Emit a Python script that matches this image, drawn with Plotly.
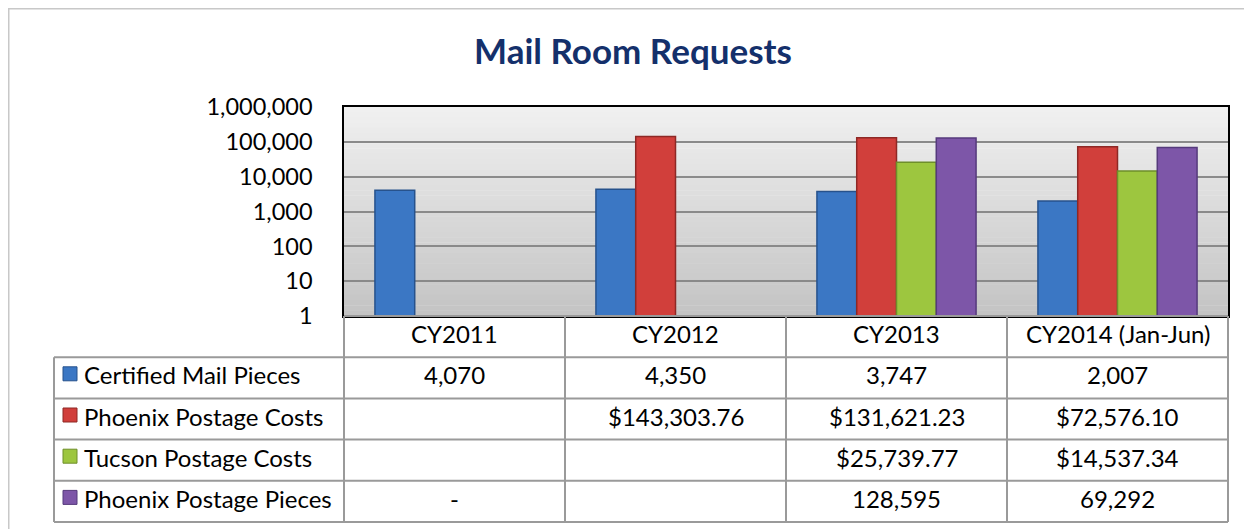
import plotly.graph_objects as go

categories = ["CY2011", "CY2012", "CY2013", "CY2014 (Jan-Jun)"]
series_names = ["Certified Mail Pieces", "Phoenix Postage Costs",
                "Tucson Postage Costs", "Phoenix Postage Pieces"]
certified_mail = [4070, 4350, 3747, 2007]
phoenix_costs = [None, 143303.76, 131621.23, 72576.10]
tucson_costs = [None, None, 25739.77, 14537.34]
phoenix_pieces = [0, None, 128595, 69292]
series_values = [certified_mail, phoenix_costs, tucson_costs, phoenix_pieces]
series_formats = ["count", "money", "money", "count"]
tick_values = [1, 10, 100, 1000, 10000, 100000, 1000000]
tick_labels = ["1", "10", "100", "1,000", "10,000", "100,000", "1,000,000"]

colors = ["#3B77C4", "#D13F3B", "#9DC63F", "#7D56A8"]
edge_colors = ["#27528C", "#8E2825", "#6E8F2A", "#553A7C"]

OFF = 8  # page body margin
W, H = 1252 - OFF, 529 - OFF
L, R, T, B = 344 - OFF, 1228 - OFF, 107 - OFF, 316 - OFF  # plot area pixels
FONT = "Lato"
TEXT_SHIFT = 3


def px(x):
    return (x - OFF - L) / (R - L)


def py(y):
    return (B - (y - OFF)) / (B - T)


def fmt(v, kind):
    if v is None:
        return ""
    if v == 0:
        return "-"
    if kind == "money":
        return "${:,.2f}".format(v)
    return "{:,}".format(int(v))


fig = go.Figure()
for name, vals, c, ec in zip(series_names, series_values, colors, edge_colors):
    fig.add_trace(go.Bar(
        x=categories,
        y=[v if (v is not None and v > 0) else None for v in vals],
        name=name,
        marker=dict(color=c, line=dict(color=ec, width=1.5)),
        showlegend=False,
    ))

shapes = []
# gradient plot background
n = 40
for i in range(n):
    t = i / (n - 1)
    g = int(round(0xF0 - (0xF0 - 0xC4) * t))
    col = "rgb({0},{0},{0})".format(g)
    y_top = 107 + (316 - 107) * i / n
    y_bot = 107 + (316 - 107) * (i + 1) / n
    shapes.append(dict(type="rect", xref="paper", yref="paper",
                       x0=0, x1=1, y0=py(y_bot), y1=py(y_top) + 0.002,
                       fillcolor=col, line=dict(width=0), layer="below"))

# outer frame
shapes.append(dict(type="rect", xref="paper", yref="paper",
                   x0=px(8.5), x1=px(1300), y0=py(600), y1=py(8.5),
                   line=dict(color="#C8C8C8", width=2), fillcolor="rgba(0,0,0,0)",
                   layer="below"))

# table grid (reference pixel coordinates)
row_edges = [316, 357.2, 398.4, 439.6, 480.8, 522]
col_edges = [344 + (1228 - 344) * k / len(categories) for k in range(len(categories) + 1)]
grid = dict(color="#9A9A9A", width=2)
LEFT = 54
for k, y in enumerate(row_edges):
    x0 = 344 if k == 0 else LEFT
    shapes.append(dict(type="line", xref="paper", yref="paper",
                       x0=px(x0), x1=px(1228), y0=py(y), y1=py(y), line=grid))
for x in col_edges:
    shapes.append(dict(type="line", xref="paper", yref="paper",
                       x0=px(x), x1=px(x), y0=py(row_edges[0]), y1=py(row_edges[-1]), line=grid))
shapes.append(dict(type="line", xref="paper", yref="paper",
                   x0=px(LEFT), x1=px(LEFT), y0=py(row_edges[1]), y1=py(row_edges[-1]), line=grid))

TS = 24
annotations = []
# header
hc = (row_edges[0] + row_edges[1]) / 2
for cat in categories:
    annotations.append(dict(x=cat, xref="x", y=py(hc - TEXT_SHIFT), yref="paper", text=cat,
                            showarrow=False, font=dict(family=FONT, size=TS, color="#000"),
                            xanchor="center", yanchor="middle"))
# rows
for r, (name, vals, kind, c, ec) in enumerate(zip(series_names, series_values, series_formats, colors, edge_colors)):
    yc = (row_edges[r + 1] + row_edges[r + 2]) / 2
    shapes.append(dict(type="rect", xref="paper", yref="paper",
                       x0=px(63), x1=px(77), y0=py(yc + 6 - TEXT_SHIFT), y1=py(yc - 8 - TEXT_SHIFT),
                       fillcolor=c, line=dict(color=ec, width=1)))
    annotations.append(dict(x=px(82), xref="paper", y=py(yc - TEXT_SHIFT), yref="paper", text=name,
                            showarrow=False, font=dict(family=FONT, size=TS, color="#000"),
                            xanchor="left", yanchor="middle"))
    for cat, v in zip(categories, vals):
        txt = fmt(v, kind)
        if txt:
            annotations.append(dict(x=cat, xref="x", y=py(yc - TEXT_SHIFT), yref="paper", text=txt,
                                    showarrow=False, font=dict(family=FONT, size=TS, color="#000"),
                                    xanchor="center", yanchor="middle"))

fig.update_layout(
    width=W, height=H,
    margin=dict(l=L, r=W - R, t=T, b=H - B, pad=0),
    paper_bgcolor="white", plot_bgcolor="rgba(0,0,0,0)",
    barmode="group", bargap=0.28, bargroupgap=0,
    title=dict(text="<b>Mail Room Requests</b>", x=(633 - OFF) / W, xanchor="center",
               y=1 - (52 - OFF) / H, yanchor="middle",
               font=dict(family=FONT, size=35, color="#14306B")),
    xaxis=dict(showticklabels=False, showgrid=False, showline=True, mirror=True,
               linecolor="#000", linewidth=1.5, range=[-0.5, 3.5], zeroline=False),
    yaxis=dict(type="log", range=[0, 6], tickvals=tick_values, ticktext=tick_labels,
               showgrid=True, gridcolor="#8A8A8A", gridwidth=1.5,
               showline=True, mirror=True, linecolor="#000", linewidth=1.5,
               ticks="", ticklabelstandoff=25,
               tickfont=dict(family=FONT, size=23.5, color="#000"), zeroline=False),
    shapes=shapes, annotations=annotations,
    showlegend=False,
)

fig.write_html("out.html")
